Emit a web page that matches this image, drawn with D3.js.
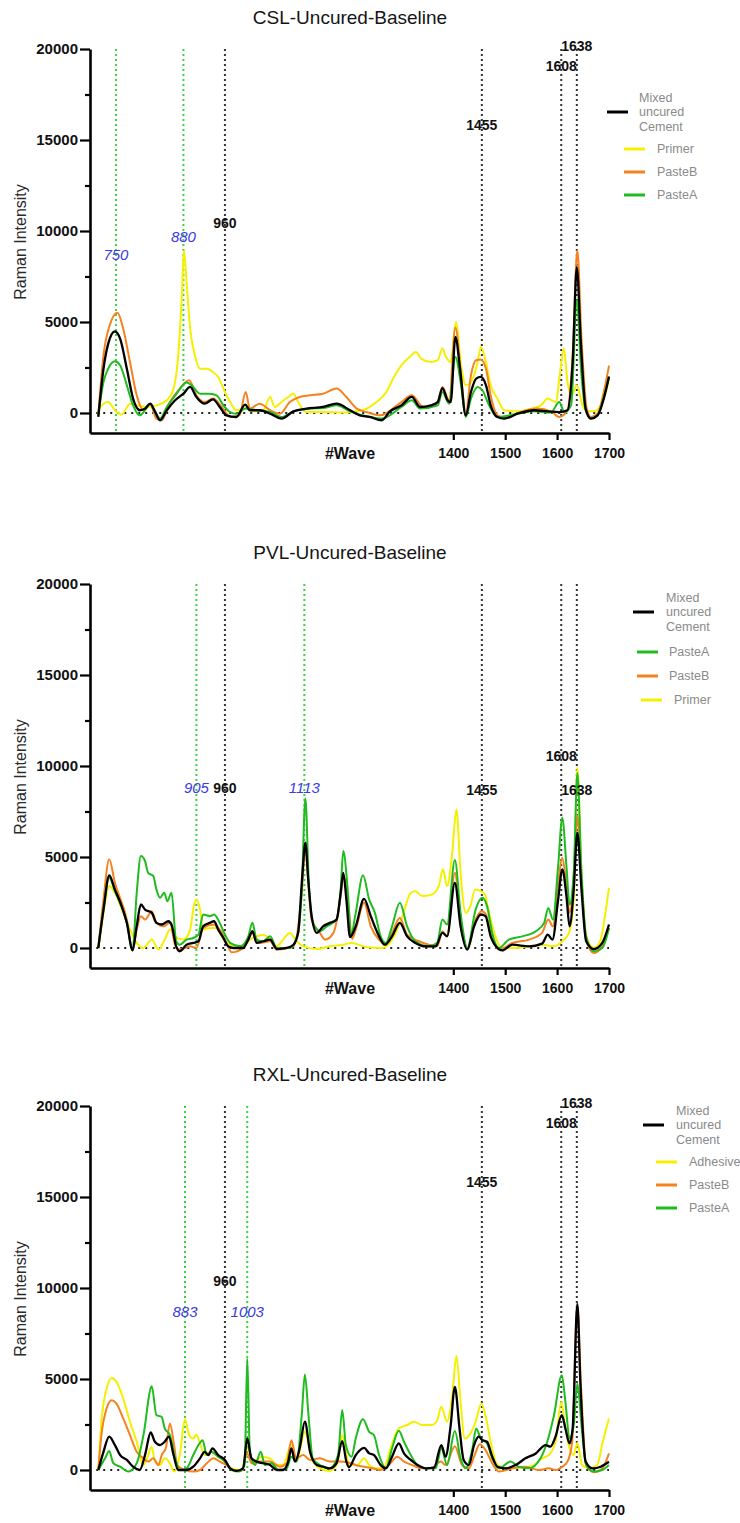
<!DOCTYPE html>
<html>
<head>
<meta charset="utf-8">
<script src="https://cdn.jsdelivr.net/npm/d3@7"></script>
<style>
  body { margin: 0; background: #fff; }
  svg { display: block; font-family: "Liberation Sans", Arial, Helvetica, sans-serif; }
</style>
</head>
<body>
<svg id="chart" width="740" height="1523"></svg>
<script>
// ---------- data: [wavenumber (cm-1), Raman intensity] ----------

// CSL-Uncured-Baseline
const cslCement = [[716,-220],[726,2430],[735,3800],[748,4480],[758,4080],[771,2430],[783,790],[796,150],[806,240],[816,510],[825,90],[835,-400],[848,150],[864,700],[880,1060],[893,1430],[905,880],[921,510],[937,750],[950,330],[963,-130],[982,-220],[999,460],[1008,150],[1027,150],[1047,-40],[1069,-310],[1092,90],[1117,240],[1149,330],[1175,510],[1201,150],[1220,-130],[1239,-220],[1262,-400],[1278,90],[1300,420],[1320,880],[1336,330],[1357,420],[1370,600],[1379,1370],[1389,700],[1395,600],[1404,4180],[1413,2430],[1424,-130],[1434,1150],[1444,1890],[1453,1980],[1463,1520],[1472,420],[1485,-220],[1498,-310],[1524,-40],[1556,150],[1582,90],[1604,50],[1620,150],[1630,2800],[1638,8020],[1646,3720],[1655,240],[1665,-310],[1678,-130],[1690,790],[1700,2000]];
const cslPasteB = [[716,-130],[726,3170],[738,4820],[753,5510],[764,4630],[777,2800],[790,970],[803,150],[816,460],[828,-310],[838,-400],[854,600],[873,1340],[891,1800],[905,970],[921,600],[937,790],[954,330],[970,-220],[988,-130],[1000,1150],[1008,240],[1027,510],[1047,150],[1066,-40],[1085,600],[1104,880],[1124,970],[1149,1060],[1175,1340],[1194,880],[1214,240],[1233,50],[1259,-130],[1300,600],[1320,970],[1342,330],[1370,600],[1379,1430],[1392,700],[1404,4700],[1415,2070],[1424,-40],[1434,2070],[1444,2900],[1453,2940],[1463,2430],[1472,970],[1485,-130],[1501,-270],[1530,50],[1562,240],[1588,90],[1604,-220],[1620,150],[1630,3170],[1639,8940],[1647,4080],[1657,240],[1665,-220],[1678,-40],[1690,1150],[1700,2600]];
const cslPasteA = [[716,-130],[726,1700],[735,2430],[748,2840],[758,2620],[771,1520],[783,420],[796,-130],[806,150],[816,510],[825,90],[835,-310],[848,330],[867,1060],[886,1670],[896,1520],[912,1060],[931,1060],[944,970],[957,420],[970,50],[982,-40],[1000,240],[1021,150],[1047,50],[1069,-220],[1092,90],[1124,240],[1149,270],[1175,420],[1201,90],[1239,-220],[1262,-310],[1300,330],[1320,700],[1336,240],[1370,420],[1379,1150],[1392,510],[1404,3080],[1415,1520],[1424,-220],[1434,790],[1447,1430],[1456,1250],[1469,420],[1485,-220],[1524,-40],[1556,90],[1588,20],[1604,600],[1614,50],[1627,420],[1638,6190],[1646,2430],[1655,150],[1665,-310],[1678,-130],[1690,880],[1700,1980]];
const cslPrimer = [[716,150],[726,510],[735,600],[748,150],[761,-90],[777,510],[790,420],[809,330],[828,420],[848,700],[861,1340],[870,3170],[877,6470],[881,8940],[886,7200],[893,4630],[902,3170],[912,2430],[925,2430],[937,2250],[947,1980],[957,1340],[970,600],[982,150],[999,240],[1015,90],[1034,150],[1047,880],[1056,330],[1069,600],[1082,880],[1092,1060],[1101,600],[1117,50],[1149,50],[1188,20],[1214,90],[1233,240],[1252,600],[1271,1150],[1284,1890],[1300,2620],[1316,3080],[1328,3350],[1338,2990],[1357,2800],[1370,2900],[1379,3540],[1386,3080],[1395,2800],[1405,5000],[1415,2620],[1424,1520],[1434,1700],[1447,2800],[1453,3630],[1463,2800],[1472,1520],[1485,790],[1498,150],[1524,90],[1549,240],[1569,420],[1582,790],[1598,600],[1605,2070],[1613,3540],[1620,1700],[1628,970],[1638,1520],[1649,420],[1659,90],[1672,90],[1684,420],[1694,1150],[1700,1900]];

// PVL-Uncured-Baseline
const pvlCement = [[716,0],[726,2110],[737,3990],[748,3210],[761,2300],[771,1380],[782,-130],[790,1190],[798,2390],[806,2110],[819,1930],[828,1380],[838,1290],[851,1470],[857,1290],[866,90],[873,-180],[886,180],[899,280],[909,370],[918,1190],[931,1380],[939,1470],[947,1010],[957,550],[966,90],[976,0],[995,0],[1005,460],[1013,920],[1021,280],[1034,370],[1047,460],[1060,-60],[1079,0],[1092,180],[1101,830],[1109,3950],[1115,5790],[1120,3950],[1127,1750],[1137,830],[1149,1190],[1162,1380],[1175,1560],[1183,3030],[1188,4130],[1194,2660],[1201,600],[1212,1190],[1228,2700],[1241,1750],[1254,830],[1268,180],[1282,640],[1297,1380],[1311,640],[1327,280],[1347,90],[1366,90],[1379,830],[1388,640],[1403,3580],[1414,1190],[1427,-90],[1440,1190],[1453,1840],[1462,1750],[1472,640],[1485,0],[1494,-130],[1514,180],[1546,90],[1571,240],[1582,730],[1591,460],[1602,2660],[1610,4320],[1618,2850],[1624,1190],[1632,3210],[1639,6340],[1647,3210],[1656,370],[1671,-60],[1687,280],[1700,1290]];
const pvlPasteA = [[716,0],[726,2110],[737,3860],[748,3120],[771,1380],[782,-130],[790,3030],[798,5050],[806,4780],[812,4130],[822,3950],[828,3210],[835,2760],[843,3030],[849,2570],[857,3030],[866,370],[873,180],[886,460],[899,550],[909,730],[918,1840],[931,1750],[939,1840],[950,1380],[960,730],[970,280],[989,90],[1005,640],[1013,1380],[1021,460],[1034,370],[1047,640],[1060,0],[1085,0],[1101,830],[1108,3200],[1115,8210],[1122,3300],[1131,1290],[1143,920],[1156,1190],[1175,1560],[1183,3210],[1188,5330],[1196,3400],[1203,700],[1212,1930],[1226,3990],[1238,2660],[1249,1930],[1260,640],[1270,280],[1282,1190],[1297,2480],[1311,1190],[1327,370],[1353,90],[1369,280],[1379,1560],[1388,1290],[1403,4830],[1414,1930],[1427,0],[1443,2110],[1456,2760],[1465,2300],[1475,830],[1488,0],[1507,460],[1533,640],[1559,920],[1575,1380],[1583,2200],[1592,1560],[1602,4500],[1610,7160],[1618,4500],[1624,2390],[1632,4130],[1639,9620],[1647,4130],[1656,640],[1671,-180],[1687,0],[1700,1100]];
const pvlPasteB = [[716,0],[726,2660],[737,4870],[748,3580],[771,1560],[782,-130],[790,1010],[798,1750],[806,1560],[819,2020],[828,1380],[841,1190],[854,1380],[864,180],[873,-90],[893,90],[905,0],[918,1100],[939,1290],[954,830],[966,90],[973,-240],[995,0],[1013,830],[1027,280],[1047,370],[1060,-90],[1092,90],[1108,3000],[1115,5600],[1122,3000],[1127,1560],[1143,830],[1153,460],[1169,830],[1183,2850],[1188,3950],[1198,2300],[1205,500],[1212,1010],[1228,2480],[1241,1190],[1257,460],[1270,180],[1282,830],[1297,1650],[1311,730],[1334,370],[1353,180],[1369,90],[1379,920],[1388,640],[1403,4130],[1414,1560],[1427,-60],[1443,1560],[1455,2020],[1463,1840],[1474,640],[1488,-90],[1514,280],[1546,460],[1571,830],[1583,1560],[1592,1190],[1602,3580],[1610,4960],[1618,3400],[1624,1930],[1632,3770],[1639,7260],[1647,3770],[1656,460],[1671,-280],[1687,90],[1700,1100]];
const pvlPrimer = [[716,0],[726,1930],[737,3400],[748,3030],[764,1930],[777,1010],[790,280],[803,0],[819,460],[832,-90],[844,460],[854,1010],[867,550],[880,460],[893,1010],[900,2300],[905,2660],[912,2110],[918,1010],[931,1100],[944,1100],[957,460],[970,180],[995,90],[1008,460],[1021,640],[1034,730],[1047,460],[1060,90],[1072,460],[1085,830],[1098,370],[1111,90],[1137,-60],[1162,90],[1188,180],[1204,280],[1231,60],[1263,0],[1282,460],[1302,1750],[1318,3030],[1327,3120],[1340,2850],[1359,2940],[1372,3400],[1380,4320],[1388,3400],[1398,5240],[1406,7620],[1414,4130],[1424,1930],[1433,2300],[1442,3210],[1453,3120],[1461,2940],[1469,1930],[1481,640],[1494,0],[1520,0],[1546,90],[1571,180],[1594,90],[1610,370],[1623,830],[1632,2660],[1639,9900],[1647,4130],[1656,640],[1671,0],[1684,460],[1693,1930],[1700,3300]];

// RXL-Uncured-Baseline
const rxlCement = [[716,0],[726,1000],[737,1830],[748,1370],[758,820],[771,550],[783,180],[796,0],[806,820],[817,2060],[825,1550],[835,1370],[844,1550],[852,1830],[861,820],[870,0],[886,0],[899,180],[912,640],[921,1000],[928,820],[936,1190],[947,820],[960,550],[970,90],[982,-50],[995,90],[1003,1730],[1011,640],[1021,460],[1034,370],[1047,270],[1060,0],[1072,0],[1082,460],[1088,1190],[1095,460],[1104,1190],[1114,2650],[1124,1000],[1137,270],[1149,180],[1162,90],[1175,370],[1186,1590],[1194,460],[1199,150],[1212,820],[1228,1220],[1238,910],[1247,820],[1260,270],[1270,90],[1282,730],[1295,1460],[1305,910],[1318,550],[1331,270],[1347,90],[1363,130],[1377,1370],[1385,730],[1395,2470],[1403,4570],[1412,2280],[1420,550],[1430,270],[1440,1370],[1449,1830],[1456,1640],[1465,1550],[1474,820],[1485,180],[1501,90],[1520,270],[1539,640],[1559,910],[1578,1370],[1587,1280],[1597,1830],[1609,3010],[1616,2280],[1624,1460],[1630,2280],[1639,9130],[1645,4660],[1655,460],[1668,90],[1684,180],[1700,450]];
const rxlAdhesive = [[716,0],[722,2650],[732,4470],[742,5060],[751,4840],[764,3930],[777,2650],[790,1550],[803,270],[810,640],[819,1280],[825,460],[835,270],[844,640],[854,370],[862,-90],[873,820],[883,2790],[891,1920],[899,1730],[905,1950],[913,1370],[921,820],[934,1000],[947,730],[960,460],[973,90],[992,0],[1003,1190],[1015,460],[1031,730],[1047,640],[1060,270],[1072,270],[1088,1370],[1098,460],[1114,2100],[1127,640],[1143,90],[1162,-50],[1178,460],[1186,1920],[1194,820],[1199,300],[1215,270],[1228,640],[1238,270],[1250,90],[1266,90],[1279,1190],[1295,2280],[1311,2470],[1324,2650],[1340,2470],[1359,2470],[1369,2740],[1377,3470],[1388,2650],[1398,4110],[1406,6260],[1414,3740],[1422,1730],[1431,1920],[1443,2650],[1454,3650],[1462,3010],[1472,1550],[1485,270],[1507,90],[1533,130],[1555,270],[1571,640],[1584,820],[1597,1550],[1608,3740],[1616,2280],[1624,1190],[1632,820],[1639,1500],[1648,270],[1661,90],[1677,270],[1688,1550],[1700,2830]];
const rxlPasteB = [[716,0],[722,1920],[732,3380],[742,3830],[751,3650],[764,2830],[777,1920],[790,1000],[803,640],[812,460],[822,640],[832,270],[838,820],[846,1190],[854,2560],[862,1370],[868,270],[883,0],[899,-90],[912,0],[925,370],[938,640],[950,460],[963,270],[976,0],[992,-50],[1003,910],[1011,370],[1027,460],[1047,460],[1066,180],[1079,370],[1088,1640],[1097,640],[1111,820],[1124,550],[1143,640],[1162,460],[1181,460],[1204,370],[1212,270],[1228,180],[1244,90],[1260,0],[1276,270],[1292,730],[1305,460],[1321,270],[1340,90],[1359,130],[1376,460],[1385,270],[1403,1300],[1417,270],[1430,90],[1440,730],[1451,1410],[1462,1100],[1475,370],[1488,-90],[1514,90],[1539,180],[1565,0],[1584,90],[1597,0],[1610,180],[1620,460],[1629,1550],[1639,9040],[1646,4660],[1656,270],[1671,-130],[1687,90],[1700,910]];
const rxlPasteA = [[716,0],[729,640],[737,1040],[745,370],[758,180],[774,-90],[790,370],[803,1920],[819,4600],[828,3010],[838,2920],[844,2280],[854,1920],[864,640],[873,0],[886,90],[899,820],[909,1370],[917,1640],[925,820],[934,1000],[947,730],[960,460],[973,0],[986,-90],[998,300],[1003,6120],[1008,1000],[1018,270],[1029,1000],[1037,270],[1050,370],[1063,0],[1079,90],[1088,730],[1098,460],[1108,3010],[1114,5240],[1121,3010],[1129,640],[1143,270],[1162,90],[1178,820],[1186,3290],[1193,1370],[1204,730],[1212,1730],[1226,2790],[1238,2100],[1247,1920],[1257,820],[1270,90],[1282,1190],[1295,2150],[1305,1550],[1318,820],[1331,270],[1347,90],[1366,90],[1377,1190],[1388,270],[1403,2140],[1414,640],[1424,90],[1437,1190],[1444,2280],[1453,1730],[1465,1460],[1475,640],[1488,90],[1510,460],[1526,180],[1546,90],[1568,640],[1581,1550],[1594,3010],[1609,5200],[1616,3740],[1624,1730],[1632,2470],[1639,4750],[1647,2470],[1656,270],[1671,-90],[1687,0],[1700,270]];

// axis ticks
const xTickValues = [1400, 1500, 1600, 1700];
const yMajorTicks = [0, 5000, 10000, 15000, 20000];
const yMinorTicks = [2500, 7500, 12500, 17500];

// band markers (cm-1)
const cslBlueBands = [750, 880];
const pvlBlueBands = [905, 1113];
const rxlBlueBands = [883, 1003];
const blackBands = [960, 1455, 1608, 1638];

// panel titles and legend labels
const panelTitles = ["CSL-Uncured-Baseline", "PVL-Uncured-Baseline", "RXL-Uncured-Baseline"];
const cslLegend = ["Mixed uncured Cement", "Primer", "PasteB", "PasteA"];
const pvlLegend = ["Mixed uncured Cement", "PasteA", "PasteB", "Primer"];
const rxlLegend = ["Mixed uncured Cement", "Adhesive", "PasteB", "PasteA"];

// ---------- styling / layout ----------
const COLORS = {
  "Mixed uncured Cement": "#000000",
  "PasteA": "#1fbb1f",
  "PasteB": "#f5821f",
  "Primer": "#f5f000",
  "Adhesive": "#f5f000"
};
const BAND_GREEN = "#3fcf3f";
const LABEL_BLUE = "#3a3ae6";

const panels = [
  {
    title: panelTitles[0], top: 49,
    series: { "Mixed uncured Cement": cslCement, "Primer": cslPrimer, "PasteB": cslPasteB, "PasteA": cslPasteA },
    drawOrder: ["Primer", "PasteB", "PasteA", "Mixed uncured Cement"],
    blueBands: cslBlueBands,
    labelY: { 750: 8400, 880: 9420, 960: 10190, 1455: 15560, 1608: 18790, 1638: 19890 },
    legend: cslLegend,
    legendPos: [
      { sx: 607, tx: 639, dy: 63 },
      { sx: 624, tx: 657, dy: 100 },
      { sx: 624, tx: 657, dy: 123 },
      { sx: 624, tx: 657, dy: 146 }
    ]
  },
  {
    title: panelTitles[1], top: 584,
    series: { "Mixed uncured Cement": pvlCement, "PasteA": pvlPasteA, "PasteB": pvlPasteB, "Primer": pvlPrimer },
    drawOrder: ["Primer", "PasteB", "PasteA", "Mixed uncured Cement"],
    blueBands: pvlBlueBands,
    labelY: { 905: 8490, 960: 8490, 1113: 8490, 1455: 8380, 1608: 10250, 1638: 8380 },
    legend: pvlLegend,
    legendPos: [
      { sx: 633, tx: 666, dy: 28 },
      { sx: 637, tx: 669, dy: 68 },
      { sx: 637, tx: 669, dy: 92 },
      { sx: 641, tx: 674, dy: 116 }
    ]
  },
  {
    title: panelTitles[2], top: 1106,
    series: { "Mixed uncured Cement": rxlCement, "Adhesive": rxlAdhesive, "PasteB": rxlPasteB, "PasteA": rxlPasteA },
    drawOrder: ["Adhesive", "PasteB", "PasteA", "Mixed uncured Cement"],
    blueBands: rxlBlueBands,
    labelY: { 883: 8390, 960: 10130, 1003: 8390, 1455: 15560, 1608: 18790, 1638: 19890 },
    legend: rxlLegend,
    legendPos: [
      { sx: 643, tx: 676, dy: 19 },
      { sx: 656, tx: 689, dy: 56 },
      { sx: 656, tx: 689, dy: 79 },
      { sx: 656, tx: 689, dy: 102 }
    ]
  }
];

const PLOT_H = 384;      // pixel height from 20000 down to the x axis
const Y_MIN = -1100;     // axis floor below zero

const svg = d3.select("#chart");
svg.append("rect").attr("width", 740).attr("height", 1523).attr("fill", "#fff");

const x = d3.scaleLinear().domain([700, 1700]).range([90, 609]);

panels.forEach(p => {
  const y = d3.scaleLinear().domain([Y_MIN, 20000]).range([p.top + PLOT_H, p.top]);
  const g = svg.append("g");

  // title
  g.append("text")
    .attr("x", 350).attr("y", p.top - 25)
    .attr("text-anchor", "middle")
    .attr("font-size", 19).attr("fill", "#151515")
    .text(p.title);

  // y axis label
  g.append("text")
    .attr("transform", `translate(26,${p.top + 193}) rotate(-90)`)
    .attr("text-anchor", "middle")
    .attr("font-size", 16).attr("fill", "#2a2a2a")
    .text("Raman Intensity");

  // x axis label
  g.append("text")
    .attr("x", 350).attr("y", p.top + 410)
    .attr("text-anchor", "middle")
    .attr("font-size", 16).attr("font-weight", "bold").attr("fill", "#111")
    .text("#Wave");

  // band marker lines
  const bands = p.blueBands.map(v => ({ v, blue: true }))
    .concat(blackBands.map(v => ({ v, blue: false })));
  g.selectAll(".band").data(bands).enter().append("line")
    .attr("x1", d => x(d.v)).attr("x2", d => x(d.v))
    .attr("y1", y(20000)).attr("y2", y(Y_MIN))
    .attr("stroke", d => d.blue ? BAND_GREEN : "#333")
    .attr("stroke-width", 2)
    .attr("stroke-dasharray", "2,3");

  // zero baseline
  g.append("line")
    .attr("x1", x(712)).attr("x2", x(1700))
    .attr("y1", y(0)).attr("y2", y(0))
    .attr("stroke", "#222").attr("stroke-width", 2)
    .attr("stroke-dasharray", "2,5");

  // spectra
  const line = d3.line().curve(d3.curveMonotoneX).x(d => x(d[0])).y(d => y(d[1]));
  p.drawOrder.forEach(name => {
    g.append("path")
      .datum(p.series[name])
      .attr("d", line)
      .attr("fill", "none")
      .attr("stroke", COLORS[name])
      .attr("stroke-width", name === "Mixed uncured Cement" ? 2.3 : 2)
      .attr("stroke-linejoin", "round");
  });

  // band labels
  bands.forEach(d => {
    g.append("text")
      .attr("x", x(d.v)).attr("y", y(p.labelY[d.v]))
      .attr("text-anchor", "middle")
      .attr("font-size", d.blue ? 15 : 14)
      .attr("font-style", d.blue ? "italic" : "normal")
      .attr("font-weight", d.blue ? "normal" : "bold")
      .attr("fill", d.blue ? LABEL_BLUE : "#111")
      .text(d.v);
  });

  // y axis (major + minor ticks)
  const yAxis = g.append("g").attr("transform", "translate(90,0)")
    .call(d3.axisLeft(y).tickValues(yMajorTicks).tickSize(10).tickSizeOuter(0).tickPadding(2).tickFormat(d => d));
  yAxis.select(".domain").attr("stroke-width", 2.6);
  yAxis.selectAll(".tick line").attr("stroke-width", 2.2);
  yAxis.selectAll(".tick text").attr("font-size", 15).attr("font-weight", "bold").attr("fill", "#111")
    .attr("font-family", "'Liberation Sans', Arial, sans-serif");

  const yMinor = g.append("g").attr("transform", "translate(90,0)")
    .call(d3.axisLeft(y).tickValues(yMinorTicks).tickSize(5).tickFormat(""));
  yMinor.select(".domain").remove();
  yMinor.selectAll(".tick line").attr("stroke-width", 2.2);

  // x axis
  const xAxis = g.append("g").attr("transform", `translate(0,${y(Y_MIN)})`)
    .call(d3.axisBottom(x).tickValues(xTickValues).tickSize(7).tickSizeOuter(0).tickPadding(8).tickFormat(d => d));
  xAxis.select(".domain").attr("stroke-width", 2.6);
  xAxis.selectAll(".tick line").attr("stroke-width", 2.2);
  xAxis.selectAll(".tick text").attr("font-size", 14).attr("font-weight", "bold").attr("fill", "#111")
    .attr("font-family", "'Liberation Sans', Arial, sans-serif");

  // legend
  const lg = g.append("g");
  p.legend.forEach((name, i) => {
    const pos = p.legendPos[i];
    const cy = p.top + pos.dy;
    lg.append("line")
      .attr("x1", pos.sx).attr("x2", pos.sx + 21)
      .attr("y1", cy).attr("y2", cy)
      .attr("stroke", COLORS[name]).attr("stroke-width", 3);
    const words = name === "Mixed uncured Cement" ? ["Mixed", "uncured", "Cement"] : [name];
    const lh = 14.5;
    words.forEach((w, k) => {
      lg.append("text")
        .attr("x", pos.tx)
        .attr("y", cy + (k - (words.length - 1) / 2) * lh)
        .attr("dy", "0.35em")
        .attr("font-size", 12.5).attr("fill", "#8a8a8a")
        .text(w);
    });
  });
});
</script>
</body>
</html>
